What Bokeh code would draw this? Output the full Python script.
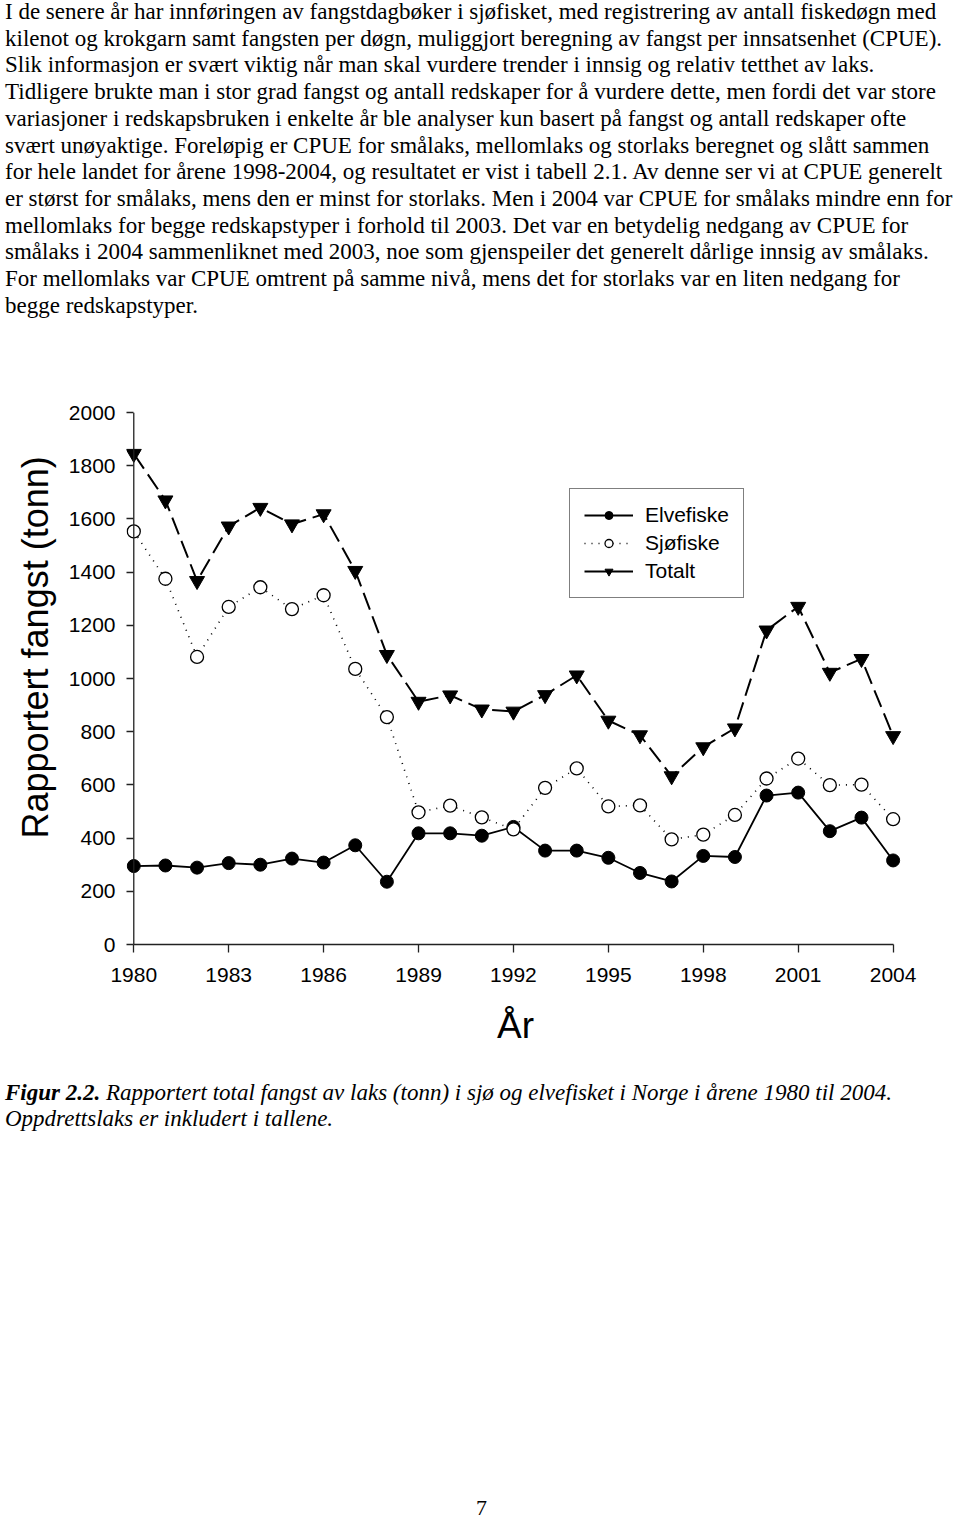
import html
from bokeh.plotting import figure
from bokeh.layouts import column
from bokeh.models import (ColumnDataSource, FixedTicker, Legend, LegendItem, Span, Range1d,
                          Div, Title)
from bokeh.embed import file_html
from bokeh.resources import INLINE

# ---------------- data ----------------
years = [1980, 1981, 1982, 1983, 1984, 1985, 1986, 1987, 1988, 1989, 1990, 1991, 1992,
         1993, 1994, 1995, 1996, 1997, 1998, 1999, 2000, 2001, 2002, 2003, 2004]
elvefiske = [295, 297, 289, 306, 300, 323, 308, 373, 236, 418, 418, 409, 442,
             353, 353, 326, 269, 237, 333, 329, 560, 571, 426, 477, 316]
sjofiske = [1553, 1375, 1081, 1269, 1343, 1261, 1313, 1036, 855, 497, 522, 478, 433,
            589, 662, 519, 523, 395, 413, 487, 624, 699, 599, 601, 471]
totalt = [1845, 1670, 1367, 1572, 1642, 1580, 1618, 1405, 1089, 913, 937, 884, 876,
          938, 1012, 842, 787, 633, 742, 813, 1181, 1270, 1022, 1074, 784]
series_names = ["Elvefiske", "Sjøfiske", "Totalt"]
x_ticks = [1980, 1983, 1986, 1989, 1992, 1995, 1998, 2001, 2004]
y_ticks = [0, 200, 400, 600, 800, 1000, 1200, 1400, 1600, 1800, 2000]
x_title = "År"
y_title = "Rapportert fangst (tonn)"

body_lines = [
    "I de senere år har innføringen av fangstdagbøker i sjøfisket, med registrering av antall fiskedøgn med",
    "kilenot og krokgarn samt fangsten per døgn, muliggjort beregning av fangst per innsatsenhet (CPUE).",
    "Slik informasjon er svært viktig når man skal vurdere trender i innsig og relativ tetthet av laks.",
    "Tidligere brukte man i stor grad fangst og antall redskaper for å vurdere dette, men fordi det var store",
    "variasjoner i redskapsbruken i enkelte år ble analyser kun basert på fangst og antall redskaper ofte",
    "svært unøyaktige. Foreløpig er CPUE for smålaks, mellomlaks og storlaks beregnet og slått sammen",
    "for hele landet for årene 1998-2004, og resultatet er vist i tabell 2.1. Av denne ser vi at CPUE generelt",
    "er størst for smålaks, mens den er minst for storlaks. Men i 2004 var CPUE for smålaks mindre enn for",
    "mellomlaks for begge redskapstyper i forhold til 2003. Det var en betydelig nedgang av CPUE for",
    "smålaks i 2004 sammenliknet med 2003, noe som gjenspeiler det generelt dårlige innsig av smålaks.",
    "For mellomlaks var CPUE omtrent på samme nivå, mens det for storlaks var en liten nedgang for",
    "begge redskapstyper.",
]
caption_bold = "Figur 2.2."
caption_rest = "Rapportert total fangst av laks (tonn) i sjø og elvefisket i Norge i årene 1980 til 2004."
caption_line2 = "Oppdrettslaks er inkludert i tallene."
page_number = "7"

W = 960
SANS = "Liberation Sans"
SERIF_CSS = "font-family:'Liberation Serif','Times New Roman',serif; color:#000;"

# ---------------- top text (HTML) ----------------
H1 = 380
body_html = "<br>".join(html.escape(s) for s in body_lines)
top = Div(width=W, height=H1, margin=0, styles={"overflow": "hidden"},
          text=(f'<div style="position:relative; width:{W}px; height:{H1}px;">'
                f'<div style="position:absolute; left:5px; top:-1px; {SERIF_CSS} '
                f'font-size:23px; line-height:26.7px; white-space:nowrap;">{body_html}</div></div>'))

# ---------------- chart ----------------
H2 = 680
p = figure(width=W, height=H2, x_range=Range1d(1979.77, 2004.36), y_range=Range1d(0, 2000),
           output_backend="svg", toolbar_location=None,
           min_border_left=126, min_border_right=56, min_border_top=32, min_border_bottom=116,
           outline_line_color=None)
p.grid.visible = False

src = ColumnDataSource(dict(year=years, elv=elvefiske, sjo=sjofiske, tot=totalt))

l1 = p.line("year", "elv", source=src, line_color="black", line_width=1.8)
m1 = p.scatter("year", "elv", source=src, marker="circle", size=13,
               fill_color="black", line_color="black")
l2 = p.line("year", "sjo", source=src, line_color="black", line_width=1.6, line_dash="1 6")
m2 = p.scatter("year", "sjo", source=src, marker="circle", size=13,
               fill_color="white", line_color="black", line_width=1.3)
l3 = p.line("year", "tot", source=src, line_color="black", line_width=2, line_dash="18 7")
m3 = p.scatter("year", "tot", source=src, marker="inverted_triangle", size=15,
               fill_color="black", line_color="black")
# solid line style used only for the legend entry of "Totalt" (a single point draws nothing)
l3_legend = p.line(x=years[:1], y=totalt[:1], line_color="black", line_width=1.8)

axis_color = "#222222"
p.xaxis.ticker = FixedTicker(ticks=x_ticks)
p.xaxis.bounds = (years[0], years[-1])
p.xaxis.major_tick_out = 8
p.xaxis.major_tick_in = 0
p.xaxis.minor_tick_line_color = None
p.xaxis.axis_line_color = axis_color
p.xaxis.axis_line_width = 1.3
p.xaxis.major_tick_line_color = axis_color
p.xaxis.major_tick_line_width = 1.3
p.xaxis.major_label_standoff = 15
p.xaxis.axis_label = x_title
p.xaxis.axis_label_standoff = 20
p.xaxis.axis_label_text_font_size = "37px"

p.yaxis.ticker = FixedTicker(ticks=y_ticks)
p.yaxis.axis_line_color = None
p.yaxis.major_tick_in = 7
p.yaxis.major_tick_out = 0
p.yaxis.minor_tick_line_color = None
p.yaxis.major_tick_line_color = axis_color
p.yaxis.major_tick_line_width = 1.3
p.yaxis.major_label_standoff = 11

for ax in (p.xaxis, p.yaxis):
    ax.major_label_text_font = SANS
    ax.major_label_text_font_size = "21px"
    ax.major_label_text_color = "black"
    ax.axis_label_text_font = SANS
    ax.axis_label_text_font_style = "normal"
    ax.axis_label_text_color = "black"

# y title: anchored at the bottom of the left panel and shifted up by `offset`
p.add_layout(Title(text=y_title, align="left", offset=106, standoff=19,
                   text_font=SANS, text_font_size="36px", text_font_style="normal",
                   text_color="black"), "left")

p.add_layout(Span(location=years[0], dimension="height", line_color=axis_color, line_width=1.3))

legend = Legend(items=[LegendItem(label=series_names[0], renderers=[l1, m1]),
                       LegendItem(label=series_names[1], renderers=[l2, m2]),
                       LegendItem(label=series_names[2], renderers=[l3_legend, m3])],
                location=(443, 346), glyph_width=49, glyph_height=20, label_height=20,
                label_standoff=12, spacing=4, padding=14, margin=0,
                border_line_color="black", border_line_width=1.3,
                label_text_font=SANS, label_text_font_size="21px",
                label_text_color="black", background_fill_color="white",
                background_fill_alpha=1.0)
p.add_layout(legend)

# ---------------- caption & page number (HTML) ----------------
H3 = 1519 - H1 - H2
cap_html = (f'<i><b>{html.escape(caption_bold)}</b> {html.escape(caption_rest)}</i><br>'
            f'<i>{html.escape(caption_line2)}</i>')
bot = Div(width=W, height=H3, margin=0, styles={"overflow": "hidden"},
          text=(f'<div style="position:relative; width:{W}px; height:{H3}px;">'
                f'<div style="position:absolute; left:5px; top:20px; {SERIF_CSS} '
                f'font-size:23px; line-height:26px; white-space:nowrap;">{cap_html}</div>'
                f'<div style="position:absolute; left:476px; top:435px; {SERIF_CSS} '
                f'font-size:22px; line-height:26px;">{html.escape(page_number)}</div></div>'))

page = column(top, p, bot, spacing=0)
open("out.html", "w").write(file_html(page, INLINE))
